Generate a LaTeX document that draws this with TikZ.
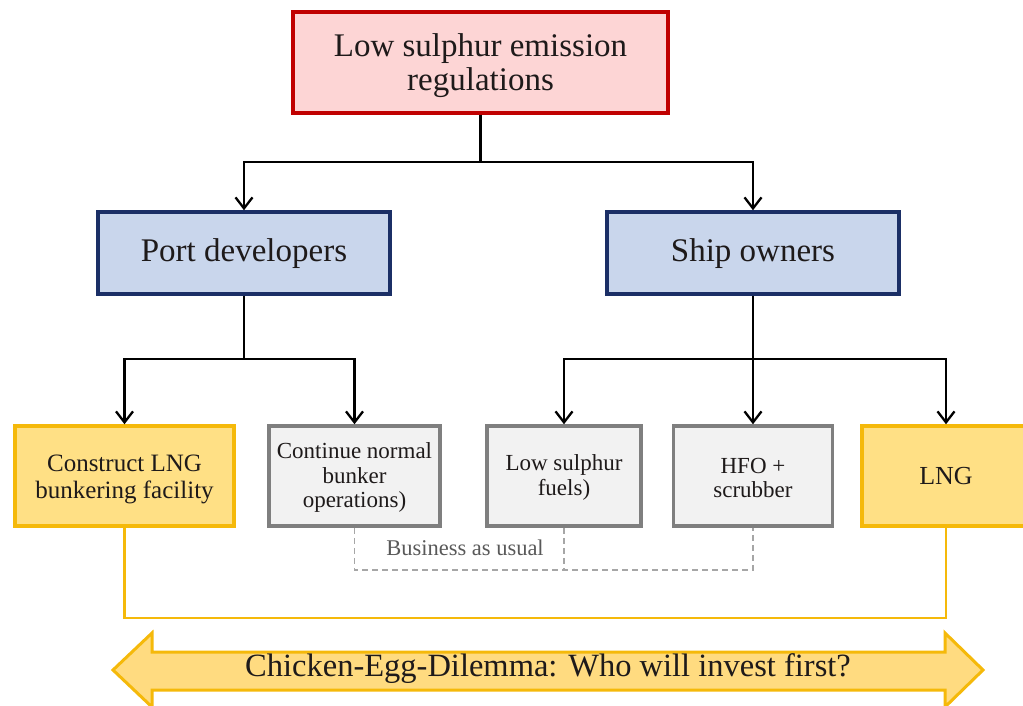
\documentclass[tikz,border=0pt]{standalone}
\usepackage{fontspec}
\setmainfont{Liberation Serif}
\usetikzlibrary{arrows.meta}
\definecolor{redfill}{HTML}{FDD5D5}
\definecolor{redline}{HTML}{C00000}
\definecolor{bluefill}{HTML}{C9D6EC}
\definecolor{blueline}{HTML}{1B2F66}
\definecolor{yelfill}{HTML}{FFE085}
\definecolor{yelline}{HTML}{F5B90A}
\definecolor{arrowfill}{HTML}{FFDB80}
\definecolor{grayfill}{HTML}{F2F2F2}
\definecolor{grayline}{HTML}{7F7F7F}
\definecolor{dashgray}{HTML}{A6A6A6}
\definecolor{txt}{HTML}{1E1A1A}
\begin{document}
\begin{tikzpicture}[x=1pt,y=-1pt,
  box/.style={draw, line width=3.5pt, align=center, inner sep=0pt, text=txt},
  redbox/.style={box, draw=redline, fill=redfill, minimum width=375pt, minimum height=101pt, font=\fontsize{33}{33.5}\selectfont},
  bluebox/.style={box, draw=blueline, fill=bluefill, minimum width=292pt, minimum height=82pt, font=\fontsize{33}{34}\selectfont},
  yelbox/.style={box, draw=yelline, fill=yelfill, minimum height=100pt, font=\fontsize{25}{27}\selectfont},
  graybox/.style={box, draw=grayline, fill=grayfill, minimum height=100pt, font=\fontsize{23}{24.5}\selectfont},
  conn/.style={line width=2.3pt, draw=black, -{Straight Barb[length=11pt,width=17pt]}},
  yelconn/.style={line width=2.6pt, draw=yelline},
  dashconn/.style={line width=1.3pt, draw=dashgray, dashed, dash pattern=on 6pt off 4pt}
]
\useasboundingbox (0,0) rectangle (1023,706);

\node[redbox] (reg) at (480.5,62.5) {\rule{0pt}{29pt}Low sulphur emission\\regulations};
\node[bluebox] (port) at (244,253) {\rule{0pt}{25pt}Port developers};
\node[bluebox] (ship) at (753,253) {\rule{0pt}{25pt}Ship owners};

\node[yelbox, minimum width=219pt] (lngfac) at (124.5,476) {\rule{0pt}{23pt}Construct LNG\\bunkering facility};
\node[graybox, minimum width=171pt] (cont) at (354.5,476) {\rule{0pt}{19pt}Continue normal\\bunker\\operations)};
\node[graybox, minimum width=154pt] (lowf) at (564,476) {\rule{0pt}{19pt}Low sulphur\\fuels)};
\node[graybox, minimum width=159pt] (hfo) at (753,476) {\rule{0pt}{19pt}HFO +\\scrubber};
\node[yelbox, minimum width=168pt, font=\fontsize{26}{27}\selectfont] (lng) at (946,476) {LNG};

% connectors
\draw[conn] (reg.south) -- ++(0,47) -| (port.north);
\draw[conn] (reg.south) -- ++(0,47) -| (ship.north);
\draw[conn] (port.south) -- ++(0,63) -| (lngfac.north);
\draw[conn] (port.south) -- ++(0,63) -| (cont.north);
\draw[conn] (ship.south) -- ++(0,63) -| (lowf.north);
\draw[conn] (ship.south) -- (hfo.north);
\draw[conn] (ship.south) -- ++(0,63) -| (lng.north);

% business as usual
\coordinate (bau) at (0,570);
\draw[dashconn] (cont.south) -- (cont.south |- bau) -- (hfo.south |- bau) -- (hfo.south);
\draw[dashconn] (lowf.south) -- (lowf.south |- bau);
\node[text=black!65, font=\fontsize{22.5}{23}\selectfont] (baulbl) at (465,548) {Business as usual};

% yellow link
\coordinate (yl) at (0,618);
\draw[yelconn] (lngfac.south) -- (lngfac.south |- yl) -| (lng.south);

% double arrow
\draw[fill=arrowfill, draw=yelline, line width=3pt, line join=miter]
  (113,670) -- (152,633) -- (152,652) -- (945,652) -- (945,633) -- (983,670)
  -- (945,707) -- (945,690) -- (152,690) -- (152,707) -- cycle;
\node[text=txt, font=\fontsize{32.5}{33}\selectfont] (dilemma) at (548,669) {Chicken-Egg-Dilemma: Who will invest first?};
\end{tikzpicture}
\end{document}
